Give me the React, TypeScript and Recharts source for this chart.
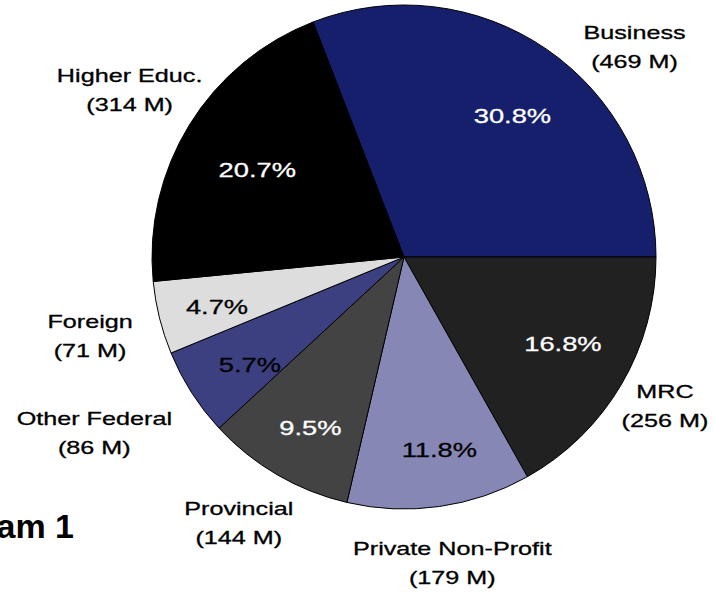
import React from 'react';
import { PieChart, Pie, Cell } from 'recharts';

const categories = ['Business', 'MRC', 'Private Non-Profit', 'Provincial', 'Other Federal', 'Foreign', 'Higher Educ.'];
const amounts = [469, 256, 179, 144, 86, 71, 314];
const amountLabels = ['(469 M)', '(256 M)', '(179 M)', '(144 M)', '(86 M)', '(71 M)', '(314 M)'];
const percentLabels = ['30.8%', '16.8%', '11.8%', '9.5%', '5.7%', '4.7%', '20.7%'];

const COLORS = ['#161f6b', '#212121', '#8787b5', '#434343', '#3c3f80', '#dddddd', '#000000'];
const PCT_FILL = ['#ffffff', '#ffffff', '#000000', '#ffffff', '#000000', '#000000', '#ffffff'];
// small nudges so the labels sit where the original placed them
const INNER_NUDGE: [number, number][] = [[3, 12], [-2, -8], [9, 8], [0, 9], [3, 7], [-6, 5], [12, 10]];
const OUTER_NUDGE: [number, number][] = [[57, 38], [-4, -11], [5, -3], [-11, -4], [-51, 6], [-16, 0], [-13, -11]];

const FONT = '"Liberation Sans", Arial, sans-serif';
const RAD = Math.PI / 180;

const data = categories.map((name, i) => ({ name, value: amounts[i] }));
const total = amounts.reduce((a, b) => a + b, 0);
const startAngle = (amounts[0] / total) * 360;

function renderLabel(props: any) {
  const { cx, cy, midAngle, outerRadius, index } = props;
  const cos = Math.cos(-midAngle * RAD);
  const sin = Math.sin(-midAngle * RAD);
  const ri = outerRadius * 0.74;
  const ix = cx + ri * cos + INNER_NUDGE[index][0];
  const iy = cy + ri * sin + INNER_NUDGE[index][1];
  const ro = outerRadius + 55;
  const ox = cx + ro * cos + OUTER_NUDGE[index][0];
  const oy = cy + ro * sin + OUTER_NUDGE[index][1];
  return (
    <g key={`lbl-${index}`}>
      <text
        transform={`translate(${ix},${iy}) scale(1.3,1)`}
        textAnchor="middle"
        dominantBaseline="central"
        fontFamily={FONT}
        fontSize={21}
        fill={PCT_FILL[index]}
        stroke={PCT_FILL[index]}
        strokeWidth={0.3}
      >
        {percentLabels[index]}
      </text>
      <text
        transform={`translate(${ox},${oy}) scale(1.4,1)`}
        textAnchor="middle"
        fontFamily={FONT}
        fontSize={18}
        fill="#000"
        stroke="#000"
        strokeWidth={0.3}
      >
        <tspan x={0} dy={-3}>{categories[index]}</tspan>
        <tspan x={0} dy={29}>{amountLabels[index]}</tspan>
      </text>
    </g>
  );
}

export default function App() {
  return (
    <div style={{ position: 'absolute', left: 0, top: 0, width: 714, height: 592, background: '#fff' }}>
      <PieChart width={714} height={592} margin={{ top: 0, right: 0, bottom: 0, left: 0 }}>
        <Pie
          data={data}
          dataKey="value"
          nameKey="name"
          cx={404}
          cy={257}
          outerRadius={252}
          startAngle={startAngle}
          endAngle={startAngle - 360}
          stroke="#000"
          strokeWidth={1}
          label={renderLabel}
          labelLine={false}
          isAnimationActive={false}
        >
          {data.map((d, i) => (
            <Cell key={d.name} fill={COLORS[i]} />
          ))}
        </Pie>
      </PieChart>
      <svg width={714} height={592} style={{ position: 'absolute', left: 0, top: 0, pointerEvents: 'none' }}>
        <text x={74} y={538} textAnchor="end" fontFamily={FONT} fontWeight="bold" fontSize={34} fill="#000">
          Diagram 1
        </text>
      </svg>
    </div>
  );
}
